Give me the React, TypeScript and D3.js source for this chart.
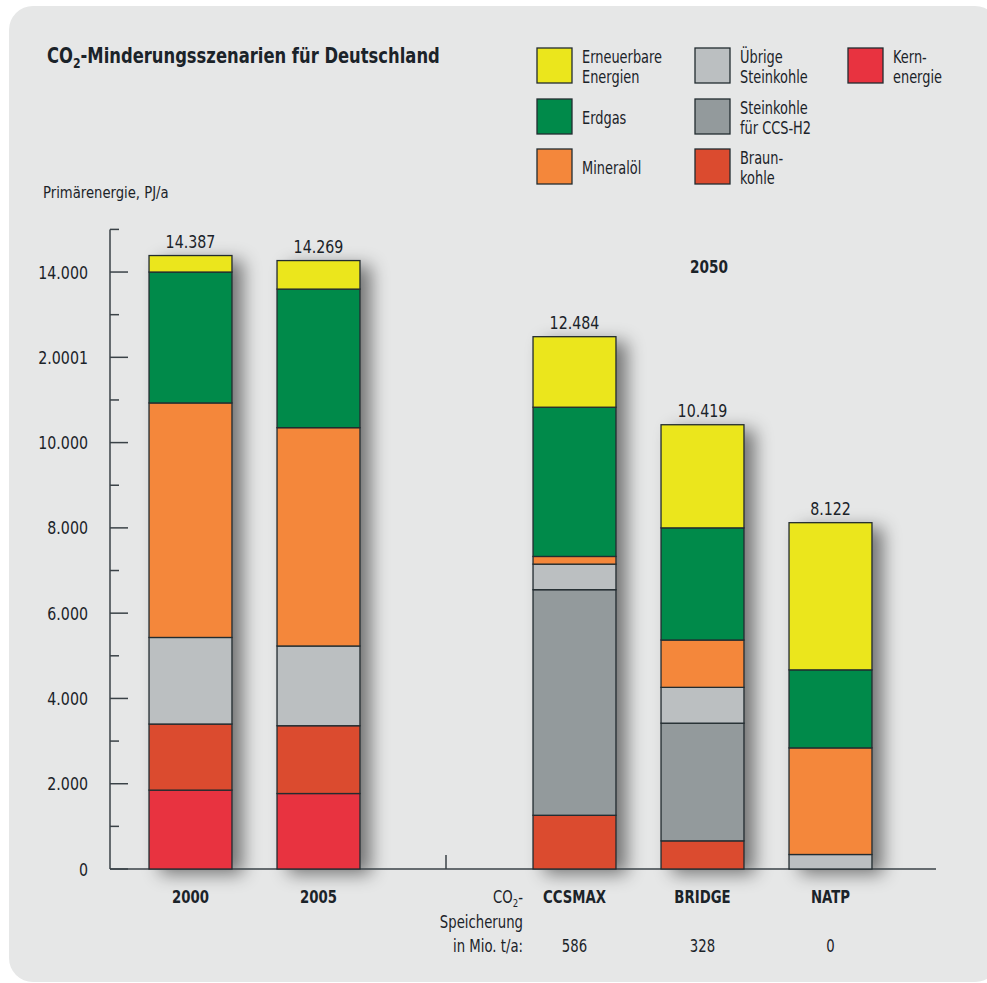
import React from "react";
import * as d3 from "d3";

const categories = ["2000", "2005", "CCSMAX", "BRIDGE", "NATP"];
const slots = ["2000", "2005", "gap", "CCSMAX", "BRIDGE", "NATP"];

// stack order bottom -> top
const kernenergie = [1850, 1770, 0, 0, 0];
const braunkohle = [1550, 1590, 1260, 660, 0];
const steinkohleCCS = [0, 0, 5290, 2760, 0];
const uebrigeSteinkohle = [2030, 1870, 600, 840, 340];
const mineraloel = [5500, 5120, 180, 1110, 2500];
const erdgas = [3070, 3250, 3500, 2630, 1830];
const erneuerbare = [387, 669, 1654, 2419, 3452];

const storage = ["", "", "586", "328", "0"];

const majorTicks = [0, 2000, 4000, 6000, 8000, 10000, 12000, 14000];
const tickLabels = ["0", "2.000", "4.000", "6.000", "8.000", "10.000", "2.0001", "14.000"];
const minorTicks = [1000, 3000, 5000, 7000, 9000, 11000, 13000, 15000];

const seriesKeys = ["kern", "braun", "ccs", "uebrig", "oel", "gas", "ee"];
const seriesValues: Record<string, number[]> = {
  kern: kernenergie,
  braun: braunkohle,
  ccs: steinkohleCCS,
  uebrig: uebrigeSteinkohle,
  oel: mineraloel,
  gas: erdgas,
  ee: erneuerbare,
};
const colors: Record<string, string> = {
  ee: "#ebe61c",
  gas: "#008a4a",
  oel: "#f4873b",
  uebrig: "#bbbfc1",
  ccs: "#939a9c",
  braun: "#db4b2f",
  kern: "#e83340",
};

const legendItems = [
  { key: "ee", lines: ["Erneuerbare", "Energien"], col: 0, row: 0 },
  { key: "gas", lines: ["Erdgas"], col: 0, row: 1 },
  { key: "oel", lines: ["Mineralöl"], col: 0, row: 2 },
  { key: "uebrig", lines: ["Übrige", "Steinkohle"], col: 1, row: 0 },
  { key: "ccs", lines: ["Steinkohle", "für CCS-H2"], col: 1, row: 1 },
  { key: "braun", lines: ["Braun-", "kohle"], col: 1, row: 2 },
  { key: "kern", lines: ["Kern-", "energie"], col: 2, row: 0 },
];

const FONT = "'DejaVu Sans', sans-serif";
const TEXT = "#1b2329";
const STROKE = "#222c30";
const SX = 0.82;

const W = 987;
const H = 983;

function T({
  x,
  y,
  size,
  anchor = "start",
  bold = false,
  sx = SX,
  children,
}: {
  x: number;
  y: number;
  size: number;
  anchor?: string;
  bold?: boolean;
  sx?: number;
  children: React.ReactNode;
}) {
  return (
    <text
      transform={`translate(${x},${y}) scale(${sx},1)`}
      fontSize={size}
      fontWeight={bold ? "bold" : "normal"}
      textAnchor={anchor as any}
      fill={TEXT}
    >
      {children}
    </text>
  );
}

export default function App() {
  const table = categories.map((c, i) => {
    const row: Record<string, any> = { cat: c };
    seriesKeys.forEach((k) => (row[k] = seriesValues[k][i]));
    return row;
  });
  const stacked = d3.stack<any>().keys(seriesKeys)(table);

  const y = d3.scaleLinear().domain([0, 15000]).range([869, 229.4]);
  const x = d3
    .scaleBand<string>()
    .domain(slots)
    .range([126.5, 894.5])
    .paddingInner(0.352)
    .paddingOuter(0.176);
  const bw = x.bandwidth();

  const locale = d3.formatLocale({ decimal: ",", thousands: ".", grouping: [3], currency: ["", "€"] });
  const fmt = locale.format(",d");

  const legendX = [537, 695, 848];
  const legendY = [48, 99, 149];
  const sw = 35;

  return (
    <svg
      width={W}
      height={H}
      style={{ position: "absolute", left: 0, top: 0, fontFamily: FONT }}
    >
      <defs>
        <filter id="shadow" x="-40%" y="-10%" width="200%" height="130%">
          <feGaussianBlur in="SourceAlpha" stdDeviation="9" />
          <feOffset dx="11" dy="5" result="b" />
          <feComponentTransfer>
            <feFuncA type="linear" slope="0.5" />
          </feComponentTransfer>
        </filter>
      </defs>
      <rect x={0} y={0} width={W} height={H} fill="#ffffff" />
      <rect x={9} y={6} width={990} height={976} rx={24} fill="#e6e7e7" />

      {/* title */}
      <T x={47} y={63} size={21} bold sx={0.78}>
        CO<tspan fontSize={14} dy={5}>2</tspan>
        <tspan dy={-5}>-Minderungsszenarien für Deutschland</tspan>
      </T>
      <T x={43} y={198} size={16.5} sx={0.8}>
        Primärenergie, PJ/a
      </T>

      {/* legend */}
      {legendItems.map((it) => {
        const lx = legendX[it.col];
        const ly = legendY[it.row];
        const cy = ly + sw / 2;
        return (
          <g key={it.key}>
            <rect x={lx} y={ly} width={sw} height={sw} fill={colors[it.key]} stroke={STROKE} strokeWidth={1.3} />
            {it.lines.length === 1 ? (
              <T x={lx + 45} y={cy + 7} size={17.5} sx={0.74}>
                {it.lines[0]}
              </T>
            ) : (
              it.lines.map((l, j) => (
                <T key={j} x={lx + 45} y={cy - 3 + j * 20.5} size={17.5} sx={0.74}>
                  {l}
                </T>
              ))
            )}
          </g>
        );
      })}

      {/* bar shadows */}
      {categories.map((c, i) => {
        const total = stacked[stacked.length - 1][i][1];
        return (
          <rect
            key={"sh" + c}
            x={x(c)!}
            y={y(total)}
            width={bw}
            height={y(0) - y(total)}
            fill="#000"
            filter="url(#shadow)"
          />
        );
      })}

      {/* axes */}
      <g stroke="#3a4247" strokeWidth={1.5} fill="none">
        <line x1={110} x2={110} y1={y(15000)} y2={y(0)} />
        <line x1={110} x2={936} y1={y(0)} y2={y(0)} />
        {majorTicks.map((t) => (
          <line key={"M" + t} x1={110} x2={128} y1={y(t)} y2={y(t)} />
        ))}
        {minorTicks.map((t) => (
          <line key={"m" + t} x1={110} x2={119} y1={y(t)} y2={y(t)} />
        ))}
        <line x1={446} x2={446} y1={y(0) - 14} y2={y(0)} />
      </g>
      {majorTicks.map((t, i) => (
        <T key={"tl" + t} x={88} y={y(t) + 6.5} size={18} sx={0.79} anchor="end">
          {tickLabels[i]}
        </T>
      ))}

      {/* bars */}
      {stacked.map((s) => (
        <g key={s.key}>
          {s.map((d, i) =>
            d[1] - d[0] > 0 ? (
              <rect
                key={categories[i]}
                x={x(categories[i])!}
                y={y(d[1])}
                width={bw}
                height={y(d[0]) - y(d[1])}
                fill={colors[s.key]}
                stroke={STROKE}
                strokeWidth={1.3}
              />
            ) : null
          )}
        </g>
      ))}

      {/* totals */}
      {categories.map((c, i) => {
        const total = stacked[stacked.length - 1][i][1];
        return (
          <T key={"tot" + c} x={x(c)! + bw / 2} y={y(total) - 8} size={18} sx={0.79} anchor="middle">
            {fmt(total)}
          </T>
        );
      })}

      {/* category labels */}
      {categories.map((c) => (
        <T key={"cat" + c} x={x(c)! + bw / 2} y={903} size={17.5} sx={0.76} bold anchor="middle">
          {c}
        </T>
      ))}
      <T x={709} y={273} size={17.5} sx={0.78} bold anchor="middle">
        2050
      </T>

      {/* storage note */}
      <T x={523} y={903} size={17} sx={0.78} anchor="end">
        CO<tspan fontSize={11} dy={4}>2</tspan>
        <tspan dy={-4}>-</tspan>
      </T>
      <T x={523} y={928} size={17} sx={0.78} anchor="end">
        Speicherung
      </T>
      <T x={523} y={952} size={17} sx={0.78} anchor="end">
        in Mio. t/a:
      </T>
      {categories.map((c, i) =>
        storage[i] ? (
          <T key={"st" + c} x={x(c)! + bw / 2} y={952} size={17} sx={0.78} anchor="middle">
            {storage[i]}
          </T>
        ) : null
      )}
    </svg>
  );
}
